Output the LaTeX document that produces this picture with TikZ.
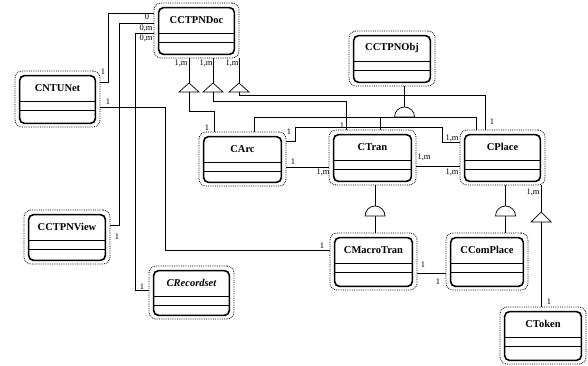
\documentclass[tikz,border=0pt]{standalone}
\usepackage{fontspec}
\setmainfont{Liberation Serif}
\newcommand{\classbox}[6]{%
  \node[outerbox, minimum width={(#4-#2)*1pt}, minimum height={(#5-#3)*1pt}] (#1) at ({(#2+#4)/2},{(#3+#5)/2}) {};
  \draw[innerbox] ([xshift=5pt,yshift=-5pt]#1.north west) rectangle ([xshift=-5pt,yshift=4pt]#1.south east);
  \draw[sepline] ([xshift=5pt,yshift=-31pt]#1.north west) -- ([xshift=-5pt,yshift=-31pt]#1.north east);
  \draw[sepline] ([xshift=5pt,yshift=-40pt]#1.north west) -- ([xshift=-5pt,yshift=-40pt]#1.north east);
  \node[cname] (#1-name) at ([yshift=-17pt]#1.north) {#6};
}
\begin{document}
\begin{tikzpicture}[x=1pt,y=-1pt,
  outerbox/.style={draw, densely dotted, line width=0.8pt, rounded corners=7pt, inner sep=0pt},
  innerbox/.style={line width=1.6pt, rounded corners=5pt},
  sepline/.style={line width=1.3pt},
  cname/.style={font=\bfseries\fontsize{10.5}{12}\selectfont, inner sep=0pt},
  mult/.style={font=\fontsize{8.5}{10}\selectfont, inner sep=0pt},
  conn/.style={line width=0.6pt},
  sym/.style={draw, line width=0.7pt, fill=white},
]
\useasboundingbox (0,0) rectangle (588,366);

% classes
\classbox{doc}{154}{3}{239}{58}{CCTPNDoc}
\classbox{obj}{349}{31}{435}{86}{CCTPNObj}
\classbox{net}{15}{71}{100}{127}{CNTUNet}
\classbox{arc}{199}{132}{286}{186}{CArc}
\classbox{tran}{329}{130}{416}{185}{CTran}
\classbox{place}{460}{130}{545}{185}{CPlace}
\classbox{view}{24}{210}{110}{264}{CCTPNView}
\classbox{rec}{149}{266}{234}{319}{\itshape CRecordset}
\classbox{macro}{330}{233}{417}{290}{CMacroTran}
\classbox{complace}{446}{233}{528}{290}{CComPlace}
\classbox{token}{500}{307}{586}{364}{CToken}

% symbol coordinates
\coordinate (t1a) at (189,83); \coordinate (t1b) at (189,92);
\coordinate (t2a) at (213,83); \coordinate (t2b) at (213,92);
\coordinate (t3a) at (239,83); \coordinate (t3b) at (239,92);
\coordinate (t4a) at (541,212); \coordinate (t4b) at (541,222);
\coordinate (g1a) at (404.5,107); \coordinate (g1b) at (404.5,117);
\coordinate (g2a) at (375,206); \coordinate (g2b) at (375,216);
\coordinate (g3a) at (505.5,206); \coordinate (g3b) at (505.5,216);

% connectors
\draw[conn] (doc.west |- 0,13) -- (108,13) -- (108,82) -- (net.east |- 0,82);
\draw[conn] (doc.west |- 0,23) -- (119,23) -- (119,225) -- (view.east |- 0,225);
\draw[conn] (doc.west |- 0,33) -- (135,33) -- (135,290) -- (rec.west |- 0,290);
\draw[conn] (net.east |- 0,107) -- (165,107) -- (165,250) -- (macro.west |- 0,250);

\draw[conn] (doc.south -| t1a) -- (t1a);
\draw[conn] (doc.south -| t2a) -- (t2a);
\draw[conn] (doc.south -| t3a) -- (t3a);
\draw[conn] (t1b) -- (189,111) -- (214,111) -- (arc.north -| 214,0);
\draw[conn] (t2b) -- (213,101) -- (346,101) -- (tran.north -| 346,0);
\draw[conn] (t3b) -- (239,95) -- (485,95) -- (place.north -| 485,0);

\draw[conn] (obj.south -| g1a) -- (g1a);
\draw[conn] (arc.north -| 254,0) -- (254,117) -- (476,117) -- (place.north -| 476,0);
\draw[conn] (g1b) -- (380,117) -- (tran.north -| 380,0);

\draw[conn] (arc.east |- 0,141) -- (295,141) -- (295,127) -- (442,127) -- (442,142) -- (place.west |- 0,142);
\draw[conn] (arc.east |- 0,167) -- (tran.west |- 0,167);
\draw[conn] (tran.east |- 0,166) -- (place.west |- 0,166);

\draw[conn] (tran.south -| g2a) -- (g2a);
\draw[conn] (g2b) -- (macro.north -| g2b);
\draw[conn] (place.south -| g3a) -- (g3a);
\draw[conn] (g3b) -- (complace.north -| g3b);
\draw[conn] (place.south -| t4a) -- (t4a);
\draw[conn] (t4b) -- (token.north -| t4b);

\draw[conn] (macro.east |- 0,273) -- (complace.west |- 0,273);

% symbols
\draw[sym] (t1a) -- ++(-10,9) -- ++(20,0) -- cycle;
\draw[sym] (t2a) -- ++(-10,9) -- ++(20,0) -- cycle;
\draw[sym] (t3a) -- ++(-10,9) -- ++(20,0) -- cycle;
\draw[sym] (t4a) -- ++(-10,10) -- ++(20,0) -- cycle;
\draw[sym] ([xshift=-10pt]g1b) arc (180:360:10) -- cycle;
\draw[sym] ([xshift=-10pt]g2b) arc (180:360:10) -- cycle;
\draw[sym] ([xshift=-10pt]g3b) arc (180:360:10) -- cycle;

% multiplicities
\node[mult] (m1) at (147,17) {0};
\node[mult] (m2) at (146,28) {0,m};
\node[mult] (m3) at (146,38) {0,m};
\node[mult] (m4) at (103,72) {1};
\node[mult] (m5) at (108,102) {1};
\node[mult] (m6) at (181,63) {1,m};
\node[mult] (m7) at (206,63) {1,m};
\node[mult] (m8) at (232,63) {1,m};
\node[mult] (m9) at (207,128) {1};
\node[mult] (m10) at (289,132) {1};
\node[mult] (m11) at (293,162) {1};
\node[mult] (m12) at (323,172) {1,m};
\node[mult] (m13) at (342,126) {1};
\node[mult] (m14) at (424,157) {1,m};
\node[mult] (m15) at (452,172) {1,m};
\node[mult] (m16) at (452,138) {1,m};
\node[mult] (m17) at (492,122) {1};
\node[mult] (m18) at (533,192) {1,m};
\node[mult] (m19) at (549,302) {1};
\node[mult] (m20) at (117,237) {1};
\node[mult] (m21) at (142,287) {1};
\node[mult] (m22) at (322,246) {1};
\node[mult] (m23) at (423,265) {1};
\node[mult] (m24) at (438,282) {1};
\end{tikzpicture}
\end{document}
